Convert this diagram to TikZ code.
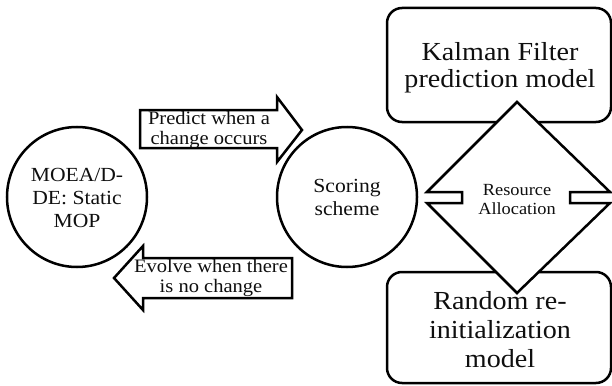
\documentclass[tikz,border=0pt]{standalone}
\usepackage{fontspec}
\setmainfont{Liberation Serif}[FakeStretch=1.08]
\usepackage{tikz}
\usetikzlibrary{
  shapes.geometric,
  positioning
}
\definecolor{LineBlack}{RGB}{0, 0, 0}
\definecolor{TextGray}{RGB}{15, 15, 15}
\tikzset{
    stage/.style={circle, draw=LineBlack, line width=2.5pt, minimum size=140pt, inner sep=0pt},
    model/.style={rectangle, draw=LineBlack, line width=2.5pt, rounded corners=15pt, minimum width=224pt, inner sep=0pt},
    shape line/.style={draw=LineBlack, fill=white, line width=2.5pt, line join=miter},
    label/.style={align=center, text=TextGray, inner sep=0pt}
}

\begin{document}
\begin{tikzpicture}[x=1pt, y=-1pt]
            \useasboundingbox (0,0) rectangle (612,385);
            % the two circles
            \node[stage] (moead) at (77,197) {};
            \node[stage] (scoring) at (347,197) {};
            % the two models on the right
            \node[model, minimum height=114pt] (kalman) at (499,65) {};
            \node[model, minimum height=111pt] (random) at (499,327.5) {};
            % resource allocation diamond with its notches
            \draw[shape line] (517,102) coordinate (alloc top) -- (610,192) -- (570,192) -- (570,203) -- (610,203)
                -- (517,293) coordinate (alloc bottom) -- (427,203) -- (462,203) -- (462,192) -- (427,192) -- cycle;
            % block arrows
            \draw[shape line] (140,110) -- (277,110) -- (277,97) -- (302,130) -- (277,162) -- (277,148) -- (140,148) -- cycle;
            \draw[shape line] (292,258) -- (143,258) -- (143,246) -- (114,278) -- (143,310) -- (143,298) -- (292,298) -- cycle;
            % texts
            \node[label, font=\fontsize{20}{23}\selectfont] (moead text) at (77,198) {MOEA/D-\\DE: Static\\MOP};
            \node[label, font=\fontsize{20}{23}\selectfont] (scoring text) at (scoring) {Scoring\\scheme};
            \node[label, font=\fontsize{26}{27}\selectfont] (kalman text) at (500,68) {Kalman Filter\\prediction model};
            \node[label, font=\fontsize{26}{29}\selectfont] (random text) at (500,330) {Random re-\\initialization\\model};
            \node[label, font=\fontsize{17}{19}\selectfont] (alloc text) at (517,200) {Resource\\Allocation};
            \node[label, font=\fontsize{19}{19.5}\selectfont] (predict text) at (209,130) {Predict when a\\change occurs};
            \node[label, font=\fontsize{19}{19.5}\selectfont] (evolve text) at (211,278) {Evolve when there\\is no change};
        \end{tikzpicture}
\end{document}
